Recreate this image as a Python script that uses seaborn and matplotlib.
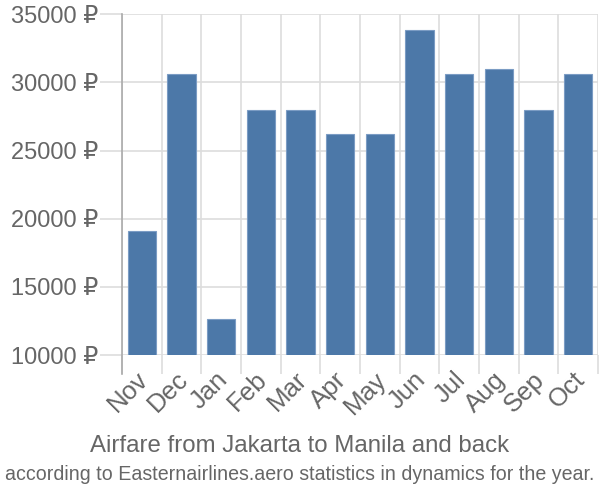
import matplotlib
matplotlib.use("Agg")
import matplotlib.pyplot as plt
import seaborn as sns
import pandas as pd
import numpy as np
from matplotlib.ticker import FuncFormatter, FixedLocator

months = ["Nov", "Dec", "Jan", "Feb", "Mar", "Apr", "May", "Jun", "Jul", "Aug", "Sep", "Oct"]
prices = [19100, 30600, 12650, 27950, 27950, 26250, 26250, 33850, 30600, 30950, 27950, 30600]
yticks = [10000, 15000, 20000, 25000, 30000, 35000]
title = "Airfare from Jakarta to Manila and back"
subtitle = "according to Easternairlines.aero statistics in dynamics for the year."

sns.set_theme(style="white")
plt.rcParams['font.family'] = ['Liberation Sans', 'DejaVu Sans']

df = pd.DataFrame({"month": months, "price": prices})

fig = plt.figure(figsize=(6, 5), dpi=100)
ax = fig.add_axes([122/600, 1-355/500, 476/600, (355-14.3)/500])

sns.barplot(data=df, x="month", y="price", color="#4c78a8", saturation=1,
            width=0.71, edgecolor="#7b9cc4", linewidth=0.8, ax=ax, zorder=3)

ax.set_ylim(10000, 35000)
ax.set_xlim(-0.5, len(months)-0.5)
ax.set_yticks(yticks)
ax.yaxis.set_major_formatter(FuncFormatter(lambda v, p: f"{int(v)} \u20bd"))
ax.set_xlabel("")
ax.set_ylabel("")

ax.set_xticks(np.arange(len(months)) - 0.15)
ax.set_xticklabels(months, rotation=45, ha="right", rotation_mode="anchor")
ax.xaxis.set_minor_locator(FixedLocator(np.arange(-0.5, len(months), 1.0)))
ax.tick_params(axis="x", which="major", length=0, pad=9, labelsize=18.5, labelcolor="#666666")
ax.tick_params(axis="x", which="minor", length=14, width=1.2, color="#dddddd", bottom=True)
ax.tick_params(axis="y", which="major", length=16, width=1.2, color="#dddddd", left=True,
               labelsize=17, labelcolor="#666666", pad=1)

ax.grid(True, axis="y", which="major", color="#dddddd", linewidth=1.2, zorder=0)
ax.grid(True, axis="x", which="minor", color="#dddddd", linewidth=1.2, zorder=0)
ax.grid(False, axis="x", which="major")

for s in ["top", "right", "bottom"]:
    ax.spines[s].set_visible(False)
ax.spines["left"].set_color("#aaaaaa")
ax.spines["left"].set_linewidth(1.2)
ax.spines["left"].set_bounds(10000 - 1400, 35000)

fig.text(0.5, 1-446/500, title, ha="center", va="center", fontsize=17.3, color="#666666")
fig.text(0.5, 1-474/500, subtitle, ha="center", va="center", fontsize=14.1, color="#666666")

fig.savefig("out.png", dpi=100)
